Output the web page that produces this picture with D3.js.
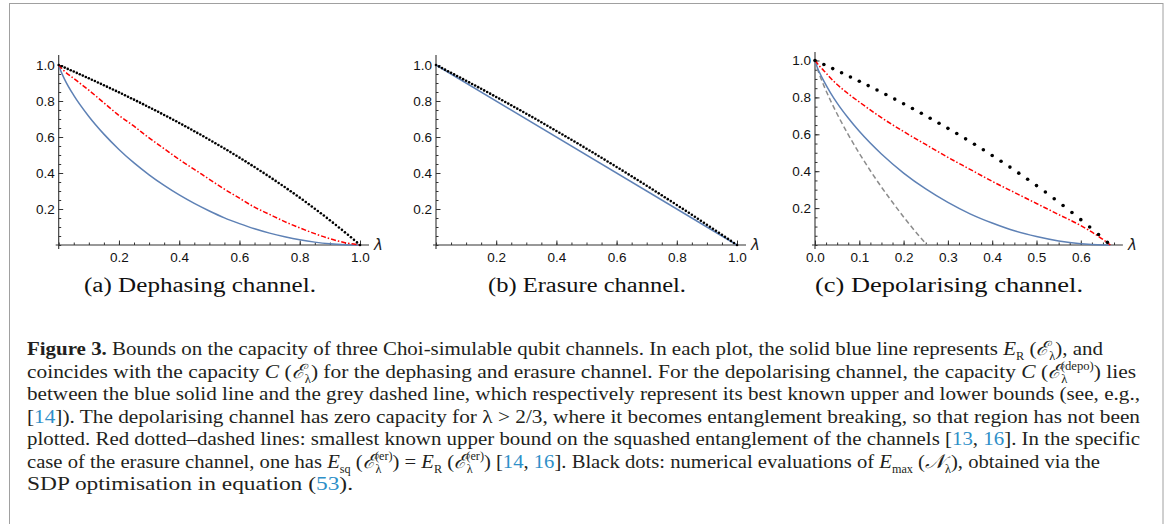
<!DOCTYPE html>
<html><head><meta charset="utf-8">
<script src="https://cdn.jsdelivr.net/npm/d3@7"></script>
<style>body{margin:0;background:#fff;} svg{display:block}</style>
</head><body>
<svg id="fig" width="1171" height="524"></svg>
<script>
// ---------------- data ----------------
// (a) dephasing channel
const lamA = [0,0.005,0.01,0.02,0.05,0.1,0.15,0.2,0.25,0.3,0.35,0.4,0.45,0.5,0.55,0.6,0.65,0.7,0.75,0.8,0.85,0.9,0.95,1.0];
const blueA = [1,0.975,0.955,0.919,0.831,0.714,0.616,0.531,0.456,0.390,0.331,0.278,0.231,0.189,0.151,0.119,0.090,0.066,0.046,0.029,0.016,0.007,0.002,0];
const redA  = [1,0.99,0.98,0.964,0.925,0.86,0.79,0.72,0.66,0.595,0.535,0.475,0.42,0.365,0.31,0.26,0.21,0.17,0.13,0.095,0.063,0.035,0.013,0];
// dot abscissae for (a) and (b): 0, 0.01, ..., 1.00
const dotLamAB = [0,0.01,0.02,0.03,0.04,0.05,0.06,0.07,0.08,0.09,0.1,0.11,0.12,0.13,0.14,0.15,0.16,0.17,0.18,0.19,0.2,0.21,0.22,0.23,0.24,0.25,0.26,0.27,0.28,0.29,0.3,0.31,0.32,0.33,0.34,0.35,0.36,0.37,0.38,0.39,0.4,0.41,0.42,0.43,0.44,0.45,0.46,0.47,0.48,0.49,0.5,0.51,0.52,0.53,0.54,0.55,0.56,0.57,0.58,0.59,0.6,0.61,0.62,0.63,0.64,0.65,0.66,0.67,0.68,0.69,0.7,0.71,0.72,0.73,0.74,0.75,0.76,0.77,0.78,0.79,0.8,0.81,0.82,0.83,0.84,0.85,0.86,0.87,0.88,0.89,0.9,0.91,0.92,0.93,0.94,0.95,0.96,0.97,0.98,0.99,1.0];
const dotsA = [1,0.9928,0.9855,0.9782,0.9709,0.9635,0.9561,0.9486,0.9411,0.9336,0.926,0.9184,0.9107,0.903,0.8953,0.8875,0.8797,0.8718,0.8639,0.856,0.848,0.84,0.8319,0.8238,0.8156,0.8074,0.7991,0.7908,0.7824,0.774,0.7655,0.757,0.7485,0.7399,0.7312,0.7225,0.7137,0.7049,0.696,0.6871,0.6781,0.669,0.6599,0.6508,0.6415,0.6323,0.6229,0.6135,0.6041,0.5945,0.585,0.5753,0.5656,0.5558,0.546,0.5361,0.5261,0.516,0.5059,0.4957,0.4854,0.4751,0.4647,0.4542,0.4436,0.433,0.4222,0.4114,0.4005,0.3895,0.3785,0.3673,0.3561,0.3447,0.3334,0.3219,0.3103,0.2987,0.2869,0.275,0.263,0.251,0.2388,0.2265,0.2141,0.2016,0.189,0.1763,0.1635,0.1506,0.1375,0.1243,0.111,0.0976,0.0841,0.0704,0.0566,0.0427,0.0286,0.0144,0];
// (b) erasure channel
const lamB = [0,1];
const blueB = [1,0];
const dotsB = [1,0.9914,0.9827,0.9741,0.9654,0.9567,0.9479,0.9391,0.9303,0.9215,0.9126,0.9037,0.8948,0.8858,0.8769,0.8679,0.8588,0.8498,0.8407,0.8315,0.8224,0.8132,0.804,0.7948,0.7855,0.7763,0.7669,0.7576,0.7482,0.7388,0.7294,0.7199,0.7105,0.701,0.6914,0.6819,0.6723,0.6626,0.653,0.6433,0.6336,0.6239,0.6141,0.6043,0.5945,0.5847,0.5748,0.5649,0.5549,0.545,0.535,0.525,0.5149,0.5049,0.4948,0.4847,0.4745,0.4643,0.4541,0.4439,0.4336,0.4233,0.413,0.4026,0.3923,0.3819,0.3714,0.361,0.3505,0.3399,0.3294,0.3188,0.3082,0.2976,0.2869,0.2763,0.2655,0.2548,0.244,0.2332,0.2224,0.2115,0.2007,0.1898,0.1788,0.1679,0.1569,0.1458,0.1348,0.1237,0.1126,0.1015,0.0903,0.0791,0.0679,0.0567,0.0454,0.0341,0.0227,0.0114,0];
// (c) depolarising channel
const lamC = [0,0.005,0.01,0.02,0.035,0.05,0.075,0.1,0.15,0.2,0.25,0.3,0.35,0.4,0.45,0.5,0.55,0.6,0.65,0.6667];
const blueC = [1,0.964,0.936,0.888,0.825,0.769,0.688,0.616,0.493,0.390,0.304,0.231,0.169,0.119,0.077,0.046,0.022,0.007,0.0005,0];
const redC  = [1,0.985,0.97,0.945,0.905,0.87,0.82,0.775,0.69,0.615,0.545,0.475,0.41,0.345,0.285,0.225,0.165,0.105,0.03,0];
const lamGrey = [0,0.005,0.01,0.02,0.035,0.05,0.075,0.1,0.125,0.15,0.175,0.2,0.225,0.25,0.2524];
const greyC = [1,0.958,0.924,0.864,0.783,0.71,0.5985,0.497,0.4026,0.314,0.2314,0.152,0.0776,0.007,0];
const dotLamC = [0,0.02,0.04,0.06,0.08,0.1,0.12,0.14,0.16,0.18,0.2,0.22,0.24,0.26,0.28,0.3,0.32,0.34,0.36,0.38,0.4,0.42,0.44,0.46,0.48,0.5,0.52,0.54,0.56,0.58,0.6,0.62,0.64,0.66];
const dotsC = [1,0.9782,0.9561,0.9336,0.9107,0.8875,0.8639,0.84,0.8156,0.7908,0.7655,0.7399,0.7137,0.6871,0.6599,0.6323,0.6041,0.5754,0.546,0.516,0.4854,0.4542,0.4222,0.3895,0.3561,0.3219,0.2869,0.251,0.2141,0.1763,0.1375,0.0976,0.0566,0.0143];

const xTicksAB = [0.2,0.4,0.6,0.8,1.0];
const xTickLabelsAB = ["0.2","0.4","0.6","0.8","1.0"];
const xTicksC = [0,0.1,0.2,0.3,0.4,0.5,0.6];
const xTickLabelsC = ["0.0","0.1","0.2","0.3","0.4","0.5","0.6"];
const yTicks = [0.2,0.4,0.6,0.8,1.0];
const yTickLabels = ["0.2","0.4","0.6","0.8","1.0"];
const subCaptions = ["(a) Dephasing channel.","(b) Erasure channel.","(c) Depolarising channel."];

// ---------------- drawing ----------------
const svg = d3.select("#fig");
const BLUE = "#5e81b5", RED = "#ff0000", GREY = "#8c8c8c", AX = "#333";

svg.append("rect").attr("x",9.5).attr("y",3.5).attr("width",1153.5).attr("height",540)
  .attr("fill","none").attr("stroke","#a0a0a0").attr("stroke-width",1);

function panel(cfg){
  const g = svg.append("g");
  const x = d3.scaleLinear().domain([0,1]).range([cfg.x0, cfg.x0 + cfg.xUnit]);
  const y = d3.scaleLinear().domain([0,1]).range([cfg.y0, cfg.y1]);
  const minorX = d3.range(0, cfg.xMax + 1e-9, cfg.xMinor);
  const minorY = d3.range(0, 1.0001, 0.05);
  g.append("g").attr("transform",`translate(0,${cfg.y0})`)
    .call(d3.axisBottom(x).tickValues(minorX).tickSize(-2.5).tickFormat(""))
    .call(s=>{s.select(".domain").remove(); s.selectAll("line").attr("stroke",AX);});
  g.append("g").attr("transform",`translate(${cfg.x0},0)`)
    .call(d3.axisLeft(y).tickValues(minorY).tickSize(-2.5).tickFormat(""))
    .call(s=>{s.select(".domain").remove(); s.selectAll("line").attr("stroke",AX);});
  g.append("g").attr("transform",`translate(0,${cfg.y0})`)
    .call(d3.axisBottom(x).tickValues(cfg.xTicks).tickSize(-4.5).tickPadding(7)
      .tickFormat((d,i)=>cfg.xLabels[i]))
    .call(s=>{s.select(".domain").remove(); s.selectAll("line").attr("stroke",AX);
      s.selectAll("text").attr("font-family","Liberation Sans, Arial, sans-serif").attr("font-size",13.5).attr("fill","#111");});
  g.append("g").attr("transform",`translate(${cfg.x0},0)`)
    .call(d3.axisLeft(y).tickValues(yTicks).tickSize(-4.5).tickPadding(4)
      .tickFormat((d,i)=>yTickLabels[i]))
    .call(s=>{s.select(".domain").remove(); s.selectAll("line").attr("stroke",AX);
      s.selectAll("text").attr("font-family","Liberation Sans, Arial, sans-serif").attr("font-size",13.5).attr("fill","#111");});
  g.append("line").attr("x1",cfg.x0-3).attr("x2",x(cfg.xEnd)).attr("y1",cfg.y0).attr("y2",cfg.y0)
    .attr("stroke",AX).attr("stroke-width",1.1);
  g.append("line").attr("x1",cfg.x0).attr("x2",cfg.x0).attr("y1",cfg.y0+4).attr("y2",cfg.yTop)
    .attr("stroke",AX).attr("stroke-width",1.1);
  g.append("text").attr("x",x(cfg.xEnd)+5).attr("y",cfg.y0+5).text("λ")
    .attr("font-family","DejaVu Sans, sans-serif").attr("font-style","italic").attr("font-size",15).attr("fill","#222");
  const line = d3.line().x(d=>x(d[0])).y(d=>y(d[1])).curve(d3.curveMonotoneX);
  cfg.lines.forEach(L=> g.append("path")
    .attr("d", line(L.lam.map((l,i)=>[l, L.vals[i]])))
    .attr("fill","none").attr("stroke",L.stroke).attr("stroke-width",L.w).attr("stroke-dasharray",L.dash));
  if (cfg.dots) g.append("g").selectAll("circle").data(cfg.dots.lam.map((l,i)=>[l,cfg.dots.vals[i]]))
    .join("circle").attr("cx",d=>x(d[0])).attr("cy",d=>y(d[1])).attr("r",cfg.dots.r).attr("fill","#000");
  svg.append("text").attr("x",cfg.capX).attr("y",292).text(cfg.caption)
    .attr("font-family","Liberation Serif, serif").attr("font-size",20.5).attr("fill","#111")
    .attr("textLength",cfg.capW).attr("lengthAdjust","spacingAndGlyphs");
}

panel({x0:58.7, xUnit:301.3, y0:245, y1:65, yTop:55, xMax:1, xMinor:0.05, xEnd:1.03,
  xTicks:xTicksAB, xLabels:xTickLabelsAB,
  lines:[{lam:lamA, vals:blueA, stroke:BLUE, dash:null, w:1.5},
         {lam:lamA, vals:redA, stroke:RED, dash:"5,2,1.5,2", w:1.5}],
  dots:{lam:dotLamAB, vals:dotsA, r:1.3},
  caption:subCaptions[0], capX:84, capW:232});
panel({x0:436, xUnit:301, y0:245, y1:65, yTop:55, xMax:1, xMinor:0.05, xEnd:1.03,
  xTicks:xTicksAB, xLabels:xTickLabelsAB,
  lines:[{lam:lamB, vals:blueB, stroke:BLUE, dash:null, w:1.5}],
  dots:{lam:dotLamAB, vals:dotsB, r:1.3},
  caption:subCaptions[1], capX:488, capW:198});
panel({x0:815, xUnit:443, y0:245, y1:60.5, yTop:52, xMax:0.68, xMinor:0.025, xEnd:0.695,
  xTicks:xTicksC, xLabels:xTickLabelsC,
  lines:[{lam:lamGrey, vals:greyC, stroke:GREY, dash:"5,3", w:1.5},
         {lam:lamC, vals:blueC, stroke:BLUE, dash:null, w:1.5},
         {lam:lamC, vals:redC, stroke:RED, dash:"5,2,1.5,2", w:1.5}],
  dots:{lam:dotLamC, vals:dotsC, r:1.8},
  caption:subCaptions[2], capX:815, capW:268});

// ---------------- caption ----------------
const LINK = "#2e8fc8";
const captionLines = [
  {w:1076, segs:[["Figure 3.","b"],[" Bounds on the capacity of three Choi-simulable qubit channels. In each plot, the solid blue line represents "],["E","i"],["R","sub"],[" ("],["ℰ","scr"],["λ","sub"],["), and"]]},
  {w:1109, segs:[["coincides with the capacity "],["C","i"],[" ("],["ℰ","scr"],["λ","sub"],[") for the dephasing and erasure channel. For the depolarising channel, the capacity "],["C","i"],[" ("],["ℰ","scr"],["λ","sub"],["(depo)","supb"],[") lies"]]},
  {w:1113, segs:[["between the blue solid line and the grey dashed line, which respectively represent its best known upper and lower bounds (see, e.g.,"]]},
  {w:1113, segs:[["["],["14","link"],["]). The depolarising channel has zero capacity for "],["λ",""],[" > 2/3, where it becomes entanglement breaking, so that region has not been"]]},
  {w:1113, segs:[["plotted. Red dotted–dashed lines: smallest known upper bound on the squashed entanglement of the channels ["],["13","link"],[", "],["16","link"],["]. In the specific"]]},
  {w:1073, segs:[["case of the erasure channel, one has "],["E","i"],["sq","sub"],[" ("],["ℰ","scr"],["λ","sub"],["(er)","supb"],[") = "],["E","i"],["R","sub"],[" ("],["ℰ","scr"],["λ","sub"],["(er)","supb"],[") ["],["14","link"],[", "],["16","link"],["]. Black dots: numerical evaluations of "],["E","i"],["max","sub"],[" ("],["𝒩","scr"],["λ","sub"],["), obtained via the"]]},
  {w:326, segs:[["SDP optimisation in equation ("],["53","link"],[")."]]}
];
const baseY = [355, 377.5, 400, 422.5, 445, 467.5, 490];
captionLines.forEach((L, li)=>{
  const t = svg.append("text").attr("x",27).attr("y",baseY[li])
    .attr("font-family","Liberation Serif, serif").attr("font-size",19.5).attr("fill","#231f20")
    .attr("textLength",L.w).attr("lengthAdjust","spacingAndGlyphs");
  L.segs.forEach(([s, k])=>{
    const ts = t.append("tspan").text(s);
    if (k==="b") ts.attr("font-weight","bold");
    if (k==="i" || k==="scr") ts.attr("font-style","italic");
    if (k==="sub") ts.attr("baseline-shift","-5").attr("font-size",11.5);
    if (k==="supb") ts.attr("baseline-shift","8").attr("font-size",11.5).attr("dx",-6);
    if (k==="link") ts.attr("fill",LINK);
  });
});
</script>
</body></html>
